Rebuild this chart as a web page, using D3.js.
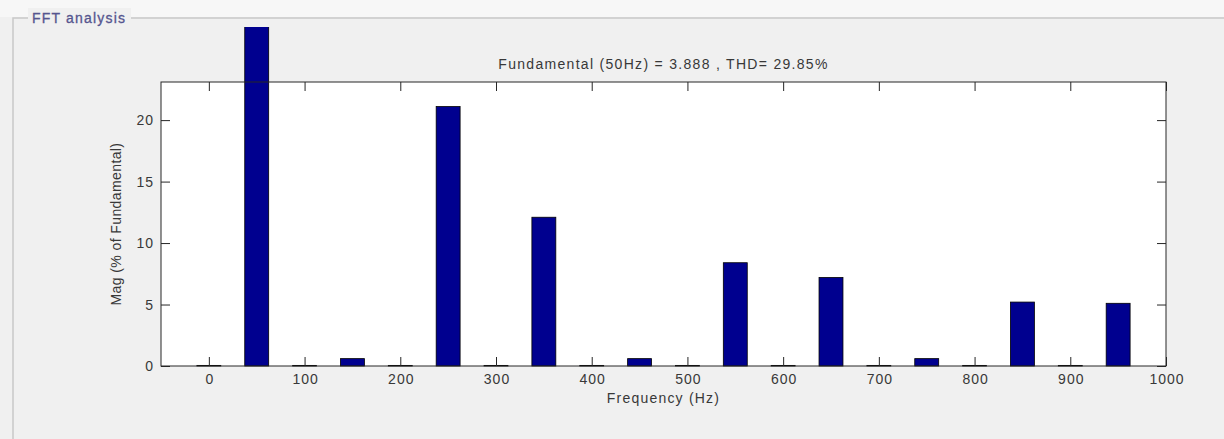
<!DOCTYPE html>
<html>
<head>
<meta charset="utf-8">
<script src="https://cdn.jsdelivr.net/npm/d3@7"></script>
<style>
  body { margin: 0; background: #f0f0f0; }
  svg { display: block; font-family: "Liberation Sans", Arial, sans-serif; }
</style>
</head>
<body>
<svg id="chart" width="1224" height="439"></svg>
<script>
// harmonic frequencies (Hz) and magnitudes (% of fundamental)
const freqs = [0, 50, 100, 150, 200, 250, 300, 350, 400, 450, 500, 550, 600, 650, 700, 750, 800, 850, 900, 950];
const mags  = [0.05, 100, 0.05, 0.6, 0.05, 21.1, 0.05, 12.1, 0.05, 0.6, 0.05, 8.4, 0.05, 7.2, 0.05, 0.6, 0.05, 5.2, 0.05, 5.1];
const xTicks = [0, 100, 200, 300, 400, 500, 600, 700, 800, 900, 1000];
const yTicks = [0, 5, 10, 15, 20];

const titleText = "Fundamental (50Hz) = 3.888 , THD= 29.85%";

const svg = d3.select("#chart");
const W = 1224, H = 439;
const plot = { left: 161, top: 82, right: 1166, bottom: 366 };

// panel (group box)
svg.append("rect").attr("width", W).attr("height", H).attr("fill", "#f0f0f0");
svg.append("rect").attr("width", W).attr("height", 17).attr("fill", "#f7f7f7");
svg.append("path")
    .attr("d", "M" + 13 + "," + H + "V" + 18 + "H" + W)
    .attr("fill", "none").attr("stroke", "#c8c8c8").attr("stroke-width", 1.5);
svg.append("rect").attr("x", 28).attr("y", 8).attr("width", 103).attr("height", 18).attr("fill", "#f0f0f0");
svg.append("text").attr("x", 32).attr("y", 23)
    .attr("font-size", 14).attr("letter-spacing", 1.2).attr("fill", "#55558f")
    .attr("stroke", "#55558f").attr("stroke-width", 0.3)
    .text("FFT analysis");

const x = d3.scaleLinear().domain([-50, 1000]).range([plot.left, plot.right]);
const y = d3.scaleLinear().domain([0, 23.1]).range([plot.bottom, plot.top]);

// axes background
svg.append("rect")
    .attr("x", plot.left).attr("y", plot.top)
    .attr("width", plot.right - plot.left).attr("height", plot.bottom - plot.top)
    .attr("fill", "#ffffff");

// bars, clipped by the panel near the top
svg.append("clipPath").attr("id", "clip")
    .append("rect").attr("x", 0).attr("y", 27).attr("width", W).attr("height", H - 27);

const barW = x(25) - x(0);
svg.append("g").attr("clip-path", "url(#clip)")
    .selectAll("rect")
    .data(freqs)
    .join("rect")
    .attr("x", (d) => x(d) - barW / 2)
    .attr("y", (d, i) => y(mags[i]))
    .attr("width", barW)
    .attr("height", (d, i) => y(0) - y(mags[i]))
    .attr("fill", "#00008f")
    .attr("stroke", "#000000")
    .attr("stroke-width", 0.8);

// axes with inward ticks
const tickLen = 9;
const axisColor = "#262626";
const fmt = d3.format("d");

const bottomAxis = svg.append("g")
    .attr("transform", "translate(0," + plot.bottom + ")")
    .call(d3.axisBottom(x).tickValues(xTicks).tickSize(-tickLen).tickPadding(8).tickFormat(fmt));
const topAxis = svg.append("g")
    .attr("transform", "translate(0," + plot.top + ")")
    .call(d3.axisTop(x).tickValues(xTicks).tickSize(-tickLen).tickFormat(""));
const leftAxis = svg.append("g")
    .attr("transform", "translate(" + plot.left + ",0)")
    .call(d3.axisLeft(y).tickValues(yTicks).tickSize(-tickLen).tickPadding(7).tickFormat(fmt));
const rightAxis = svg.append("g")
    .attr("transform", "translate(" + plot.right + ",0)")
    .call(d3.axisRight(y).tickValues(yTicks).tickSize(-tickLen).tickFormat(""));

[bottomAxis, topAxis, leftAxis, rightAxis].forEach(function (g) {
    g.select(".domain").remove();
    g.selectAll("line").attr("stroke", axisColor);
    g.selectAll("text").attr("fill", "#383838").attr("font-size", 14)
        .attr("letter-spacing", 1)
        .attr("font-family", "'Liberation Sans', Arial, sans-serif");
});
// centre the spaced bottom labels again
bottomAxis.selectAll("text").attr("dx", 0.5);

// box
svg.append("rect")
    .attr("x", plot.left).attr("y", plot.top)
    .attr("width", plot.right - plot.left).attr("height", plot.bottom - plot.top)
    .attr("fill", "none").attr("stroke", axisColor).attr("stroke-width", 1);

// labels
svg.append("text")
    .attr("x", (plot.left + plot.right) / 2).attr("y", 69)
    .attr("text-anchor", "middle").attr("font-size", 14).attr("letter-spacing", 1.3)
    .attr("fill", "#383838")
    .text(titleText);

svg.append("text")
    .attr("x", (plot.left + plot.right) / 2).attr("y", 403)
    .attr("text-anchor", "middle").attr("font-size", 14).attr("letter-spacing", 1.2)
    .attr("fill", "#383838")
    .text("Frequency (Hz)");

svg.append("text")
    .attr("transform", "translate(121," + (plot.top + plot.bottom) / 2 + ") rotate(-90)")
    .attr("text-anchor", "middle").attr("font-size", 14).attr("letter-spacing", 0.4)
    .attr("fill", "#383838")
    .text("Mag (% of Fundamental)");
</script>
</body>
</html>
